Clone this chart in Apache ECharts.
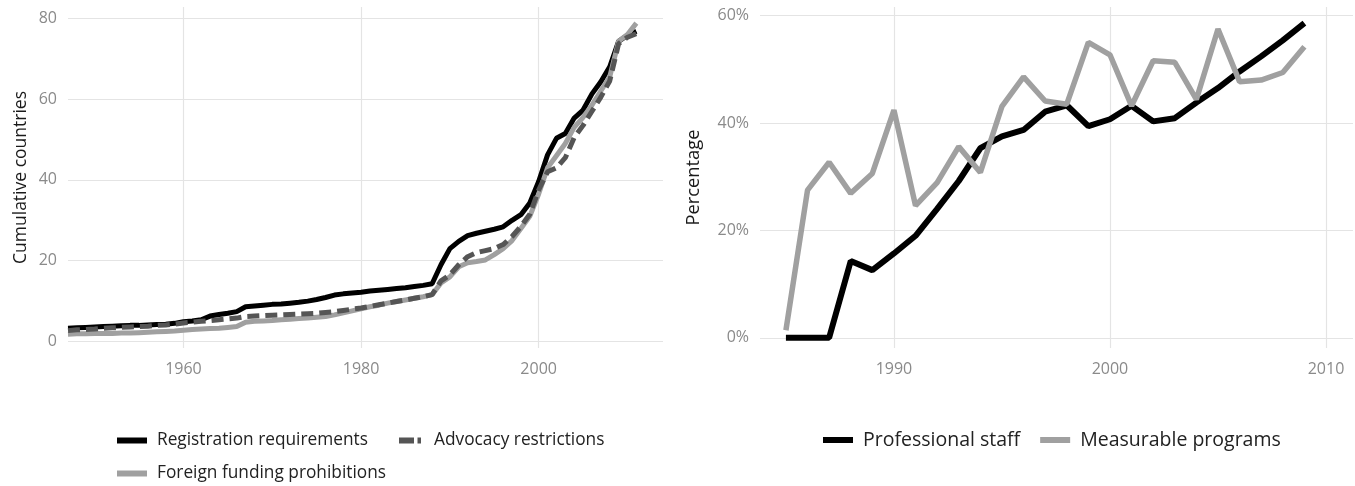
<!DOCTYPE html>
<html>
<head>
<meta charset="utf-8">
<script src="https://cdn.jsdelivr.net/npm/echarts@6/dist/echarts.min.js"></script>
<style>
html,body{margin:0;padding:0;background:#fff;}
#chart{width:1355px;height:486px;}
</style>
</head>
<body>
<div id="chart"></div>
<script>
// ---- Left panel data ----
const yearsLeft = [1947,1948,1949,1950,1951,1952,1953,1954,1955,1956,1957,1958,1959,1960,1961,1962,1963,1964,1965,1966,1967,1968,1969,1970,1971,1972,1973,1974,1975,1976,1977,1978,1979,1980,1981,1982,1983,1984,1985,1986,1987,1988,1989,1990,1991,1992,1993,1994,1995,1996,1997,1998,1999,2000,2001,2002,2003,2004,2005,2006,2007,2008,2009,2010,2011];
const registration = [3.3,3.4,3.5,3.6,3.7,3.8,3.9,4.0,4.0,4.1,4.2,4.3,4.5,4.9,5.1,5.4,6.3,6.7,7.0,7.4,8.6,8.8,9.0,9.2,9.3,9.5,9.7,10.0,10.4,10.9,11.5,11.8,12.0,12.2,12.5,12.7,12.9,13.1,13.3,13.6,13.9,14.3,19.0,23.0,24.8,26.2,26.8,27.3,27.8,28.4,30.0,31.4,34.3,39.6,46.2,50.3,51.5,55.3,57.3,61.3,64.3,68.0,74.3,75.8,76.8];
const advocacy = [2.7,2.9,3.0,3.1,3.3,3.4,3.5,3.6,3.7,3.8,4.0,4.1,4.3,4.6,4.8,5.0,5.2,5.4,5.6,5.8,6.2,6.3,6.4,6.5,6.6,6.7,6.8,6.9,7.0,7.2,7.4,7.7,8.0,8.3,8.7,9.1,9.5,9.9,10.3,10.7,11.1,11.6,15.0,16.5,19.0,21.0,22.0,22.5,23.0,24.0,26.0,28.5,31.5,37.5,42.0,43.0,45.5,50.5,53.5,57.0,60.5,64.5,73.7,75.3,76.2];
const foreignFunding = [1.8,1.9,1.9,2.0,2.0,2.0,2.1,2.1,2.2,2.3,2.4,2.5,2.6,2.8,3.0,3.1,3.2,3.3,3.5,3.7,4.8,5.0,5.1,5.2,5.4,5.5,5.7,5.8,6.0,6.2,6.6,7.1,7.6,8.1,8.6,9.0,9.5,9.9,10.3,10.7,11.1,11.6,14.5,16.0,18.5,19.5,19.8,20.2,21.5,23.0,25.0,28.0,31.0,36.5,43.0,46.0,49.0,53.0,55.5,58.5,62.0,65.5,74.3,76.0,78.8];
const leftXTicks = [1960,1980,2000];
const leftYTicks = [0,20,40,60,80];

// ---- Right panel data ----
const yearsRight = [1985,1986,1987,1988,1989,1990,1991,1992,1993,1994,1995,1996,1997,1998,1999,2000,2001,2002,2003,2004,2005,2006,2007,2008,2009];
const professionalStaff = [0,0,0,14.3,12.6,15.7,19.0,24.0,29.2,35.3,37.5,38.7,42.1,43.3,39.4,40.7,43.2,40.3,40.9,43.8,46.5,49.6,52.4,55.4,58.6];
const measurablePrograms = [1.4,27.5,32.7,26.9,30.6,42.4,24.6,28.9,35.6,30.8,43.1,48.6,44.1,43.5,55.0,52.7,43.2,51.6,51.3,44.4,57.5,47.7,48.0,49.4,54.2];
const rightXTicks = [1990,2000,2010];
const rightYTicks = [0,20,40,60];

const FONT = '"Open Sans", "Noto Sans", sans-serif';
const TICK_COLOR = '#8a8a8a';
const GRID_COLOR = '#e4e4e4';
const BLACK = '#000000';
const DARK = '#555555';
const GRAY = '#a0a0a0';

function pairs(xs, ys){ return xs.map((x,i)=>[x, ys[i]]); }
const plain = v => String(v);
const pct = v => v + '%';

function xAxisCfg(idx, min, max, ticks){
  return {
    type:'value', gridIndex:idx, min:min, max:max,
    axisLine:{show:false},
    axisTick:{show:false, customValues:ticks},
    axisLabel:{customValues:ticks, fontFamily:FONT, fontSize:16, color:TICK_COLOR, margin:13, formatter:plain},
    splitLine:{show:true, lineStyle:{color:GRID_COLOR, width:1.2}}
  };
}
function yAxisCfg(idx, min, max, ticks, name, gap, fmt, nameSize){
  return {
    type:'value', gridIndex:idx, min:min, max:max,
    name:name, nameLocation:'middle', nameGap:gap,
    nameTextStyle:{fontFamily:FONT, fontSize:nameSize, color:'#1a1a1a'},
    axisLine:{show:false},
    axisTick:{show:false, customValues:ticks},
    axisLabel:{customValues:ticks, fontFamily:FONT, fontSize:16, color:TICK_COLOR, margin:11, formatter:fmt},
    splitLine:{show:true, lineStyle:{color:GRID_COLOR, width:1.2}}
  };
}

const solidIcon = 'path://M0,0H30V6H0Z';
const dashIcon = 'path://M0,0H15V6H0Z M18.5,0H22V6H18.5Z';
const leftLegendText = {fontFamily:FONT, fontSize:17.3, color:'#222', padding:[0,0,0,5]};

const option = {
  animation:false,
  backgroundColor:'#ffffff',
  grid:[
    {left:68, top:7, width:595, height:341},
    {left:760, top:7, width:593, height:341}
  ],
  xAxis:[
    xAxisCfg(0, 1947, 2014, leftXTicks),
    xAxisCfg(1, 1983.8, 2011.25, rightXTicks)
  ],
  yAxis:[
    yAxisCfg(0, -1.6, 82.8, leftYTicks, 'Cumulative countries', 38, plain, 17.5),
    yAxisCfg(1, -1.9, 61.6, rightYTicks, 'Percentage', 57, pct, 18.3)
  ],
  legend:[
    {
      left:117, top:432, padding:0, itemWidth:30, itemHeight:6,
      textStyle:leftLegendText,
      data:[{name:'Registration requirements', icon:solidIcon}]
    },
    {
      left:399, top:432, padding:0, itemWidth:22, itemHeight:6,
      textStyle:{fontFamily:FONT, fontSize:17.3, color:'#222', padding:[0,0,0,8]},
      data:[{name:'Advocacy restrictions', icon:dashIcon}]
    },
    {
      left:117, top:465, padding:0, itemWidth:30, itemHeight:6,
      textStyle:leftLegendText,
      data:[{name:'Foreign funding prohibitions', icon:solidIcon}]
    },
    {
      left:823, top:430, padding:0, itemWidth:30, itemHeight:7, itemGap:20,
      textStyle:{fontFamily:FONT, fontSize:19.5, color:'#222', padding:[0,0,0,5]},
      data:[{name:'Professional staff', icon:solidIcon},{name:'Measurable programs', icon:solidIcon}]
    }
  ],
  series:[
    {name:'Registration requirements', type:'line', xAxisIndex:0, yAxisIndex:0, data:pairs(yearsLeft, registration),
      showSymbol:false, symbol:'none', color:BLACK, lineStyle:{color:BLACK, width:5}, itemStyle:{color:BLACK}},
    {name:'Foreign funding prohibitions', type:'line', xAxisIndex:0, yAxisIndex:0, data:pairs(yearsLeft, foreignFunding),
      showSymbol:false, symbol:'none', color:GRAY, lineStyle:{color:GRAY, width:5}, itemStyle:{color:GRAY}},
    {name:'Advocacy restrictions', type:'line', xAxisIndex:0, yAxisIndex:0, data:pairs(yearsLeft, advocacy),
      showSymbol:false, symbol:'none', color:DARK, lineStyle:{color:DARK, width:5, type:[12,6]}, itemStyle:{color:DARK}},
    {name:'Professional staff', type:'line', xAxisIndex:1, yAxisIndex:1, data:pairs(yearsRight, professionalStaff),
      showSymbol:false, symbol:'none', color:BLACK, lineStyle:{color:BLACK, width:6}, itemStyle:{color:BLACK}},
    {name:'Measurable programs', type:'line', xAxisIndex:1, yAxisIndex:1, data:pairs(yearsRight, measurablePrograms),
      showSymbol:false, symbol:'none', color:GRAY, lineStyle:{color:GRAY, width:5.5}, itemStyle:{color:GRAY}}
  ]
};

const chart = echarts.init(document.getElementById('chart'), null, {renderer:'canvas'});
chart.setOption(option);
</script>
</body>
</html>
